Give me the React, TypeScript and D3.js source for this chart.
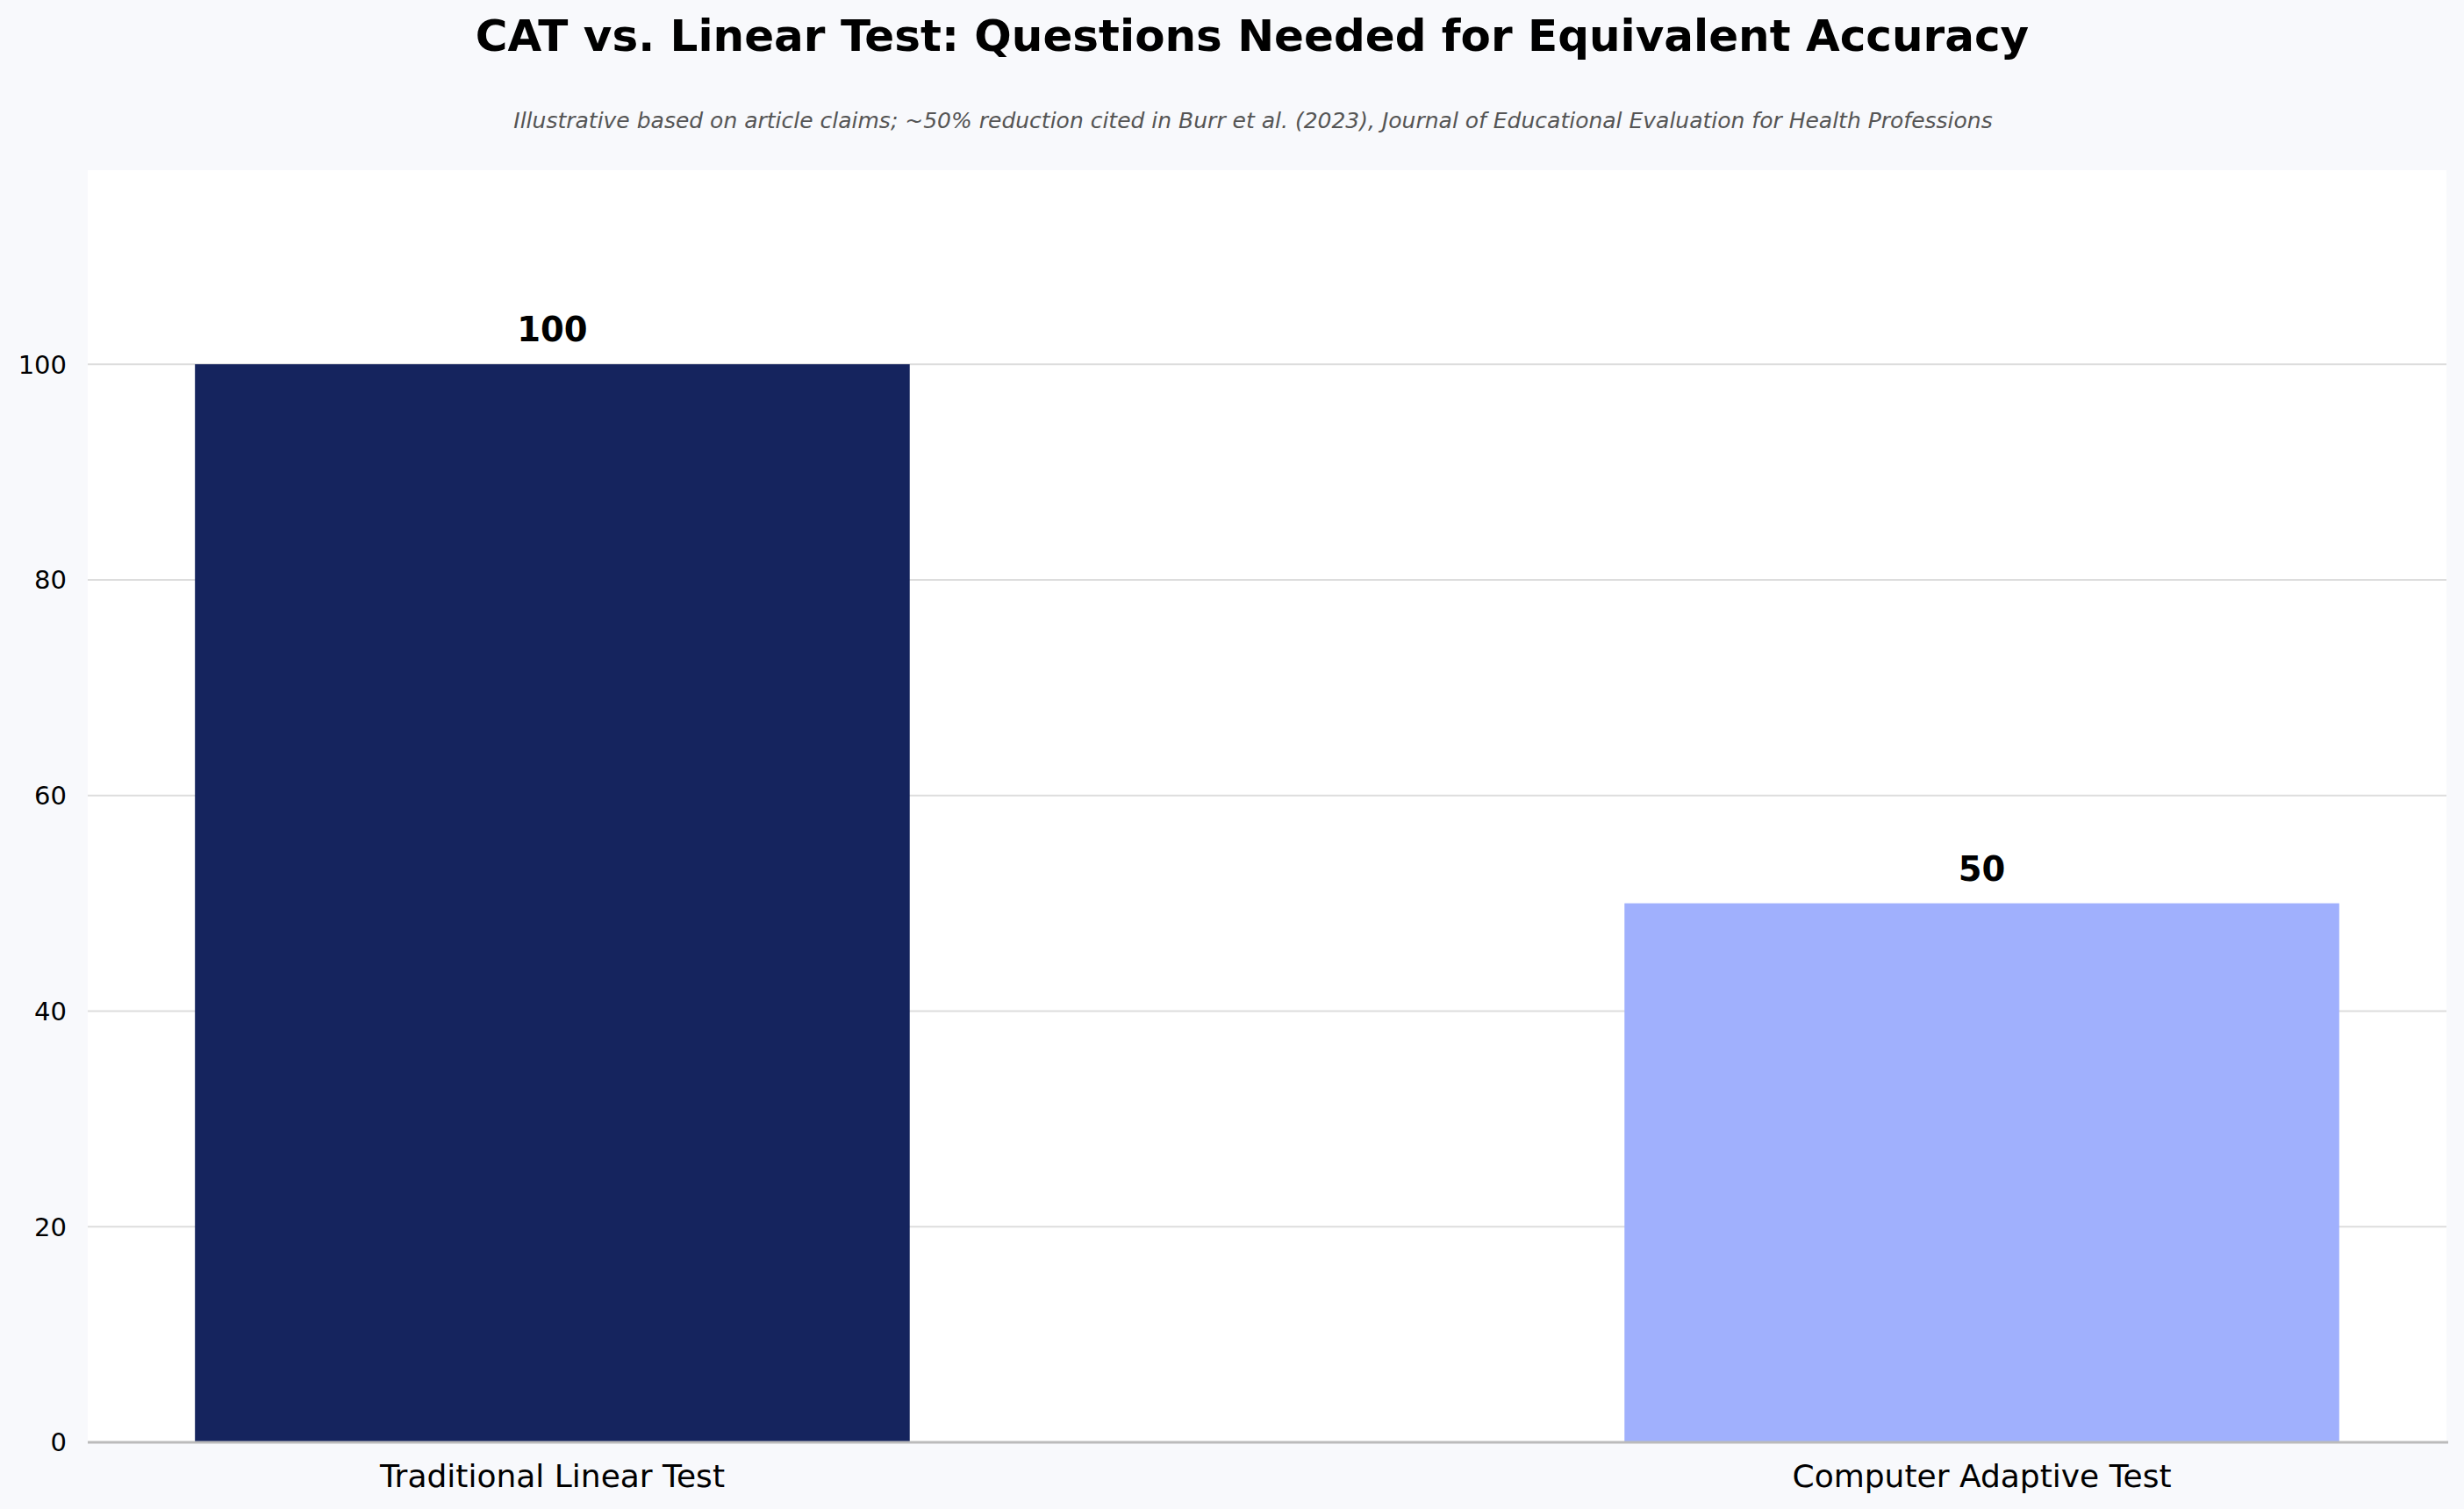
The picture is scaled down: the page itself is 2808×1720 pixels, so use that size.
import React from "react";
import * as d3 from "d3";

const categories: string[] = ["Traditional Linear Test", "Computer Adaptive Test"];
const questionCounts: number[] = [100, 50];
const barColors: string[] = ["#15245E", "#A0B0FD"];
const yTicks: number[] = [0, 20, 40, 60, 80, 100];
const titleText = "CAT vs. Linear Test: Questions Needed for Equivalent Accuracy";
const subtitleText =
  "Illustrative based on article claims; ~50% reduction cited in Burr et al. (2023), Journal of Educational Evaluation for Health Professions";

const W = 2808;
const H = 1720;
const FONT = "'DejaVu Sans', sans-serif";

export default function App() {
  const left = 100;
  const right = 2788;
  const top = 194;
  const bottom = 1644;

  const x = d3.scaleLinear().domain([-0.325, categories.length - 1 + 0.325]).range([left, right]);
  const y = d3.scaleLinear().domain([0, 118]).range([bottom, top]);
  const barW = x(0.5) - x(0);

  return (
    <svg
      width={W}
      height={H}
      viewBox={`0 0 ${W} ${H}`}
      style={{ position: "absolute", left: 0, top: 0, display: "block" }}
    >
      <rect x={0} y={0} width={W} height={H} fill="#F8F9FC" />
      <rect x={left} y={top} width={right - left} height={bottom - top} fill="#FFFFFF" />

      <text
        x={1427}
        y={58}
        textAnchor="middle"
        fontFamily={FONT}
        fontWeight="bold"
        fontSize={50}
        fill="#000"
      >
        {titleText}
      </text>
      <text
        x={1428}
        y={146}
        textAnchor="middle"
        fontFamily={FONT}
        fontStyle="italic"
        fontSize={25}
        fill="#555555"
      >
        {subtitleText}
      </text>

      {yTicks.map((t) => (
        <g key={t}>
          {t > 0 && (
            <line x1={left} x2={right} y1={y(t)} y2={y(t)} stroke="#DDDDDD" strokeWidth={2} />
          )}
          <text
            x={76}
            y={y(t)}
            dy="0.36em"
            textAnchor="end"
            fontFamily={FONT}
            fontSize={29}
            fill="#000"
          >
            {t}
          </text>
        </g>
      ))}

      {categories.map((c, i) => (
        <g key={c}>
          <rect
            x={x(i) - barW / 2}
            y={y(questionCounts[i])}
            width={barW}
            height={y(0) - y(questionCounts[i])}
            fill={barColors[i]}
          />
          <text
            x={x(i)}
            y={y(questionCounts[i]) - 26}
            textAnchor="middle"
            fontFamily={FONT}
            fontWeight="bold"
            fontSize={38.5}
            fill="#000"
          >
            {questionCounts[i]}
          </text>
          <text
            x={x(i)}
            y={1695}
            textAnchor="middle"
            fontFamily={FONT}
            fontSize={36}
            fill="#000"
          >
            {c}
          </text>
        </g>
      ))}

      <line x1={left} x2={right + 2} y1={bottom} y2={bottom} stroke="#BBBBBB" strokeWidth={3} />
    </svg>
  );
}
